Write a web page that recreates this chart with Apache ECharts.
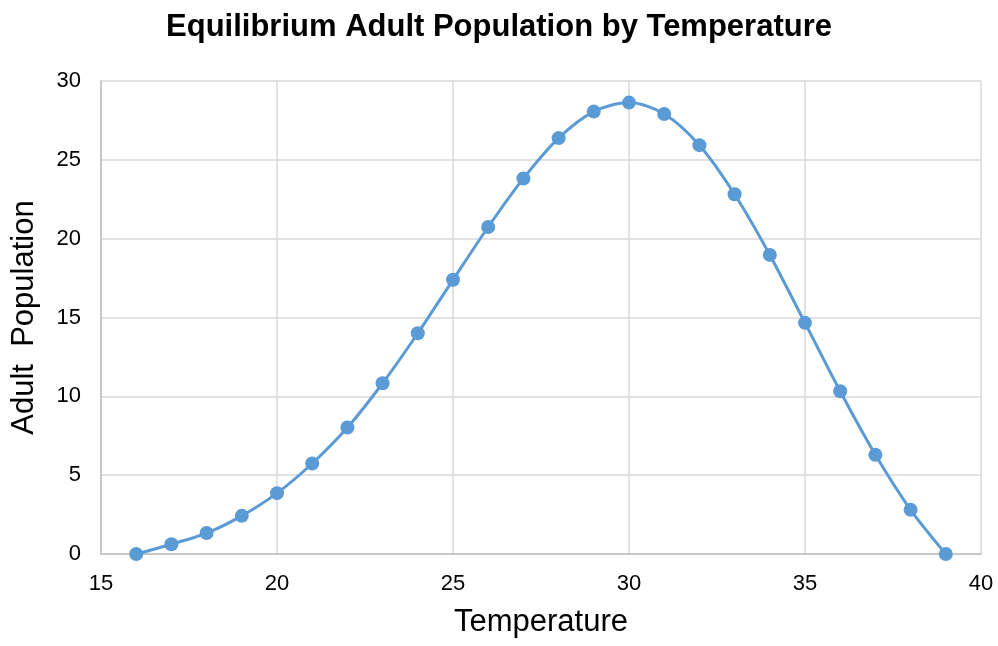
<!DOCTYPE html>
<html>
<head>
<meta charset="utf-8">
<title>Equilibrium Adult Population by Temperature</title>
<script src="https://cdn.jsdelivr.net/npm/echarts@6/dist/echarts.min.js"></script>
<style>
  html, body { margin: 0; padding: 0; background: #ffffff; }
  #chart { width: 998px; height: 646px; }
</style>
</head>
<body>
<div id="chart"></div>
<script>
// Temperature (x) and equilibrium adult population (y)
const temperatures = [16, 17, 18, 19, 20, 21, 22, 23, 24, 25, 26, 27, 28, 29, 30, 31, 32, 33, 34, 35, 36, 37, 38, 39];
const adultPopulation = [0, 0.62, 1.33, 2.42, 3.86, 5.74, 8.02, 10.83, 14.0, 17.39, 20.74, 23.82, 26.38, 28.06, 28.63, 27.91, 25.93, 22.82, 18.97, 14.66, 10.32, 6.29, 2.8, 0];

const titleText = 'Equilibrium Adult Population by Temperature';
const xAxisName = 'Temperature';
const yAxisName = 'Adult  Population';

const points = temperatures.map((t, i) => [t, adultPopulation[i]]);

const FONT = '"Liberation Sans", Arial, Helvetica, sans-serif';
const chart = echarts.init(document.getElementById('chart'), null, { renderer: 'canvas' });

chart.setOption({
  animation: false,
  backgroundColor: '#ffffff',
  title: {
    text: titleText,
    left: 'center',
    top: 7,
    textStyle: { fontFamily: FONT, fontSize: 31, fontWeight: 'bold', color: '#000000' }
  },
  grid: { left: 101, right: 17, top: 81, bottom: 92, containLabel: false },
  xAxis: {
    type: 'value',
    min: 15,
    max: 40,
    interval: 5,
    name: xAxisName,
    nameLocation: 'middle',
    nameGap: 53,
    nameTextStyle: { fontFamily: FONT, fontSize: 31, color: '#000000' },
    axisLine: { show: true, lineStyle: { color: '#bfbfbf', width: 1.5 } },
    axisTick: { show: false },
    axisLabel: { fontFamily: FONT, fontSize: 22, color: '#000000', margin: 19 },
    splitLine: { show: true, lineStyle: { color: '#d9d9d9', width: 1.5 } }
  },
  yAxis: {
    type: 'value',
    min: 0,
    max: 30,
    interval: 5,
    name: yAxisName,
    nameLocation: 'middle',
    nameGap: 61,
    nameTextStyle: { fontFamily: FONT, fontSize: 31, color: '#000000' },
    axisLine: { show: true, lineStyle: { color: '#bfbfbf', width: 1.5 } },
    axisTick: { show: false },
    axisLabel: { fontFamily: FONT, fontSize: 22, color: '#000000', margin: 20 },
    splitLine: { show: true, lineStyle: { color: '#d9d9d9', width: 1.5 } }
  },
  series: [{
    type: 'line',
    data: points,
    smooth: 0.3,
    symbol: 'circle',
    symbolSize: 14,
    lineStyle: { color: '#5b9bd5', width: 3 },
    itemStyle: { color: '#5b9bd5' }
  }]
});
</script>
</body>
</html>
